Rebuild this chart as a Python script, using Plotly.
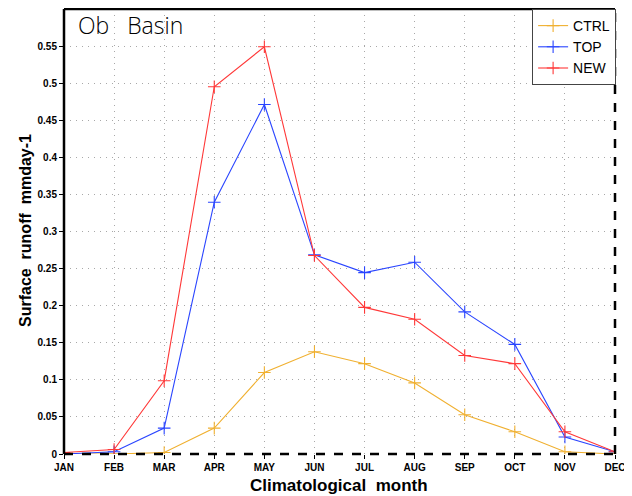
import plotly.graph_objects as go

months = ["JAN", "FEB", "MAR", "APR", "MAY", "JUN", "JUL", "AUG", "SEP", "OCT", "NOV", "DEC"]
ctrl = [0.0, 0.0, 0.002, 0.035, 0.110, 0.138, 0.122, 0.096, 0.053, 0.030, 0.003, 0.0]
top = [0.0, 0.003, 0.035, 0.340, 0.472, 0.269, 0.245, 0.259, 0.192, 0.148, 0.023, 0.003]
new = [0.002, 0.006, 0.099, 0.496, 0.550, 0.268, 0.198, 0.182, 0.133, 0.122, 0.030, 0.003]
y_ticks = [0, 0.05, 0.1, 0.15, 0.2, 0.25, 0.3, 0.35, 0.4, 0.45, 0.5, 0.55]
y_ticklabels = ["0", "0.05", "0.1", "0.15", "0.2", "0.25", "0.3", "0.35", "0.4", "0.45", "0.5", "0.55"]

series = [("CTRL", ctrl, "#f0b030"), ("TOP", top, "#2a45ff"), ("NEW", new, "#ff3838")]

fig = go.Figure()
xs = list(range(len(months)))
for name, vals, col in series:
    fig.add_trace(go.Scatter(
        x=xs, y=vals, name=name, mode="lines+markers",
        line=dict(color=col, width=1.1),
        marker=dict(symbol="cross-thin", size=9, line=dict(color=col, width=1.1), color=col),
    ))

# page has an 8px body margin, so the figure is sized to fit inside the 632x496 window
tickfont = dict(size=10, family="Liberation Sans Narrow, Arial Narrow, Liberation Sans", color="black", weight="bold")
griddash = "1px,5px"
fig.update_layout(
    width=624, height=488,
    margin=dict(l=56, r=17, t=1, b=42, autoexpand=False),
    paper_bgcolor="white", plot_bgcolor="white",
    font=dict(family="Liberation Sans, Arial, sans-serif", color="black"),
    showlegend=True,
    legend=dict(x=1.002, y=1.0, xanchor="right", yanchor="top",
                bgcolor="white", bordercolor="#444", borderwidth=1,
                font=dict(size=14, family="Liberation Sans, Arial"),
                itemwidth=30, tracegroupgap=0),
    xaxis=dict(range=[0, 11], tickmode="array", tickvals=xs, ticktext=months,
               showgrid=True, gridcolor="#a8a8a8", griddash=griddash, gridwidth=1,
               ticks="outside", ticklen=4, tickcolor="black", tickfont=tickfont,
               zeroline=False, showline=False, automargin=False),
    yaxis=dict(range=[0, 0.601], tickmode="array", tickvals=y_ticks, ticktext=y_ticklabels,
               showgrid=True, gridcolor="#a8a8a8", griddash=griddash, gridwidth=1,
               ticks="outside", ticklen=4, tickcolor="black", tickfont=tickfont,
               zeroline=False, showline=False, automargin=False),
)

# frame
fig.add_shape(type="line", xref="paper", yref="paper", x0=0, x1=0, y0=0, y1=1, line=dict(color="black", width=2.5))
fig.add_shape(type="line", xref="paper", yref="paper", x0=0, x1=1, y0=1, y1=1, line=dict(color="black", width=2.5))
fig.add_shape(type="line", xref="paper", yref="paper", x0=0, x1=1, y0=0, y1=0, line=dict(color="black", width=2.5, dash="dash"))
fig.add_shape(type="line", xref="paper", yref="paper", x0=1, x1=1, y0=0, y1=1, line=dict(color="black", width=2.5, dash="dash"))

fig.add_annotation(text="Ob   Basin", xref="paper", yref="paper", x=(76 - 64) / 551, y=1 - (7 - 9) / 445,
                   xanchor="left", yanchor="top", showarrow=False,
                   font=dict(size=23, family="Open Sans, DejaVu Sans", color="black", weight=300))
fig.add_annotation(text="Climatological  month", xref="paper", yref="paper", x=(339 - 64) / 551, y=-(486 - 454) / 445,
                   xanchor="center", yanchor="middle", showarrow=False,
                   font=dict(size=17, family="Liberation Sans, Arial", color="black", weight="bold"))
fig.add_annotation(text="Surface  runoff  mmday-1", xref="paper", yref="paper", x=-(64 - 26) / 551, y=(454 - 231) / 445,
                   xanchor="center", yanchor="middle", showarrow=False, textangle=-90,
                   font=dict(size=16, family="Liberation Sans, Arial", color="black", weight="bold"))

fig.write_html("out.html")
